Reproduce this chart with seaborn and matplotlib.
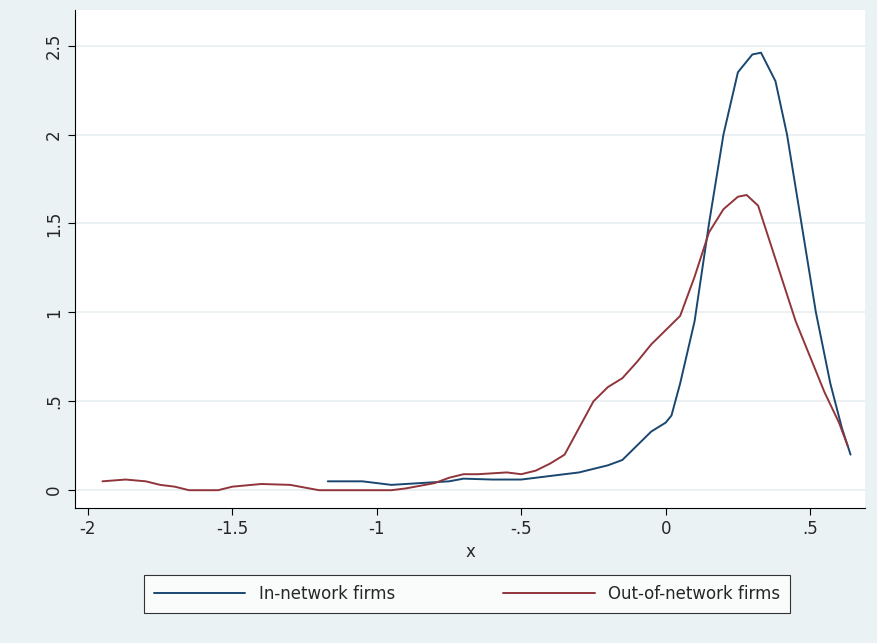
import matplotlib
matplotlib.use("Agg")
import matplotlib.pyplot as plt
import seaborn as sns
import pandas as pd

in_x = [-1.17,-1.05,-0.95,-0.85,-0.75,-0.7,-0.6,-0.5,-0.45,-0.35,-0.3,-0.25,-0.2,-0.15,-0.1,-0.05,0,0.02,0.05,0.1,0.15,0.2,0.25,0.3,0.33,0.38,0.42,0.47,0.52,0.57,0.61,0.64]
in_y = [0.05,0.05,0.03,0.04,0.05,0.065,0.06,0.06,0.07,0.09,0.1,0.12,0.14,0.17,0.25,0.33,0.38,0.42,0.6,0.95,1.5,2.0,2.35,2.45,2.46,2.3,2.0,1.5,1.0,0.6,0.35,0.2]
out_x = [-1.95,-1.87,-1.8,-1.75,-1.7,-1.65,-1.55,-1.5,-1.4,-1.3,-1.2,-1.1,-0.95,-0.9,-0.8,-0.75,-0.7,-0.65,-0.6,-0.55,-0.5,-0.45,-0.4,-0.35,-0.3,-0.25,-0.2,-0.15,-0.1,-0.05,0,0.05,0.1,0.15,0.2,0.25,0.28,0.32,0.35,0.4,0.45,0.5,0.55,0.6,0.63]
out_y = [0.05,0.06,0.05,0.03,0.02,0.0,0.0,0.02,0.035,0.03,0.0,0.0,0.0,0.01,0.04,0.07,0.09,0.09,0.095,0.1,0.09,0.11,0.15,0.2,0.35,0.5,0.58,0.63,0.72,0.82,0.9,0.98,1.2,1.45,1.58,1.65,1.66,1.6,1.45,1.2,0.95,0.75,0.55,0.38,0.25]
labels = ["In-network firms", "Out-of-network firms"]

df = pd.concat([
    pd.DataFrame({"x": in_x, "y": in_y, "g": labels[0]}),
    pd.DataFrame({"x": out_x, "y": out_y, "g": labels[1]}),
])

sns.set_style("white")
fig = plt.figure(figsize=(8.78, 6.43), dpi=100, facecolor="#eaf2f3")
ax = fig.add_axes([75/878, 1-508/643, 790/878, 498/643])
ax.set_facecolor("white")
sns.lineplot(data=df, x="x", y="y", hue="g", palette=["#1a476f", "#90353b"],
             sort=False, estimator=None, lw=1.4, ax=ax, legend=False)
ax.set_xlim(-2.045, 0.69)
ax.set_ylim(-0.10, 2.70)
ax.set_xticks([-2,-1.5,-1,-0.5,0,0.5])
ax.set_xticklabels(["-2","-1.5","-1","-.5","0",".5"], fontsize=12)
ax.set_yticks([0,0.5,1,1.5,2,2.5])
ax.set_yticklabels(["0",".5","1","1.5","2","2.5"], fontsize=12, rotation=90, va="center")
ax.grid(axis="y", color="#e8eef0", lw=1.2)
ax.grid(axis="x", visible=False)
for s in ["top","right"]:
    ax.spines[s].set_visible(False)
for s in ["left","bottom"]:
    ax.spines[s].set_color("black")
ax.tick_params(axis="both", length=5, color="black", direction="out", left=True, bottom=True)
ax.set_xlabel("x", fontsize=12)
ax.set_ylabel("")
from matplotlib.lines import Line2D
h = [Line2D([],[],color="#1a476f",lw=1.4), Line2D([],[],color="#90353b",lw=1.4)]
leg = fig.legend(h, labels, loc="center", bbox_to_anchor=(467/878, 1-594/643), ncol=2,
                 fontsize=12, frameon=True, fancybox=False, edgecolor="black",
                 handlelength=5.5, columnspacing=6.5, borderpad=0.6)
leg.get_frame().set_linewidth(0.8)
fig.savefig("out.png", dpi=100, facecolor=fig.get_facecolor())
